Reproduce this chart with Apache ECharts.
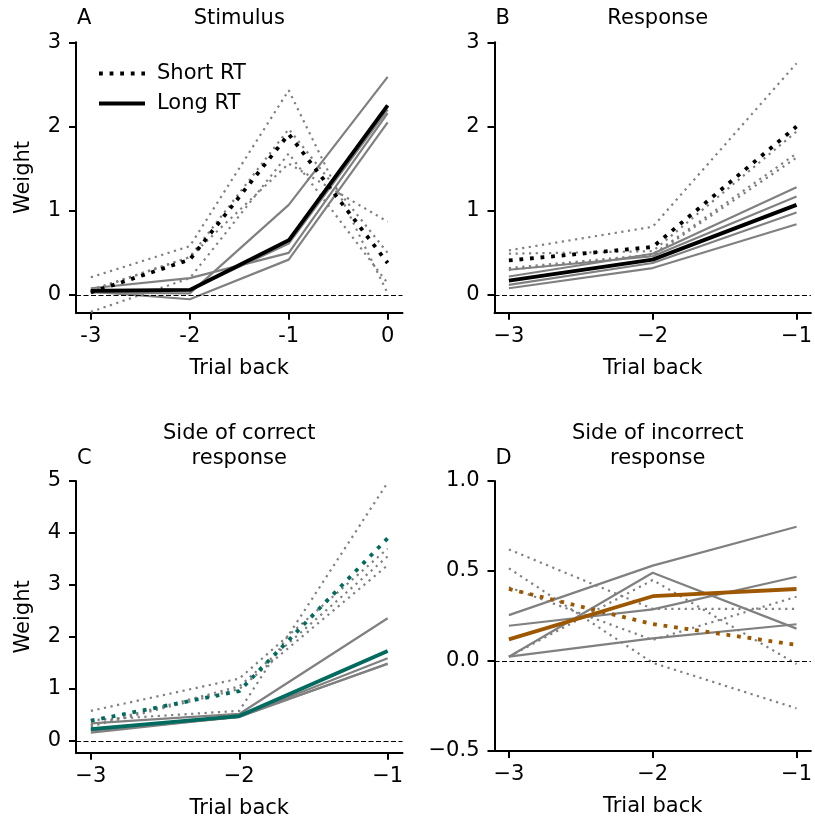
<!DOCTYPE html>
<html><head><meta charset="utf-8">
<script src="https://cdn.jsdelivr.net/npm/echarts@6/dist/echarts.min.js"></script>
<style>html,body{margin:0;padding:0;background:#fff}#c{width:815px;height:823px}</style>
</head><body><div id="c"></div>
<script>
// ---------- data ----------
const trialsA = [-3, -2, -1, 0];
const trials = [-3, -2, -1];

// Panel A: Stimulus
const stimShortIndiv = [[0.21, 0.58, 2.43, 0.02], [-0.20, 0.20, 1.68, 0.14], [0.05, 0.45, 1.56, 0.87], [0.06, 0.45, 1.97, 0.50]];
const stimLongIndiv = [[0.03, 0.02, 1.07, 2.59], [0.08, 0.20, 0.50, 2.16], [0.04, -0.05, 0.42, 2.05], [0.06, 0.06, 0.61, 2.20]];
const stimShortMean = [0.03, 0.42, 1.91, 0.38];
const stimLongMean = [0.05, 0.06, 0.65, 2.25];

// Panel B: Response
const respShortIndiv = [[0.53, 0.81, 2.75], [0.49, 0.52, 1.94], [0.32, 0.48, 1.68], [0.30, 0.47, 1.63]];
const respLongIndiv = [[0.22, 0.49, 1.28], [0.30, 0.46, 1.17], [0.12, 0.38, 0.98], [0.08, 0.32, 0.84]];
const respShortMean = [0.41, 0.57, 2.00];
const respLongMean = [0.17, 0.42, 1.07];

// Panel C: Side of correct response
const corrShortIndiv = [[0.40, 0.58, 4.97], [0.58, 1.20, 3.70], [0.30, 1.05, 3.55], [0.28, 1.00, 3.38]];
const corrLongIndiv = [[0.34, 0.52, 2.36], [0.22, 0.47, 1.59], [0.20, 0.46, 1.49], [0.16, 0.47, 1.48]];
const corrShortMean = [0.39, 0.96, 3.90];
const corrLongMean = [0.23, 0.48, 1.73];

// Panel D: Side of incorrect response
const incShortIndiv = [[0.62, 0.29, 0.29], [0.515, -0.01, -0.263], [0.024, 0.45, -0.017], [0.41, 0.117, 0.357]];
const incLongIndiv = [[0.255, 0.53, 0.746], [0.196, 0.287, 0.468], [0.024, 0.49, 0.18], [0.024, 0.126, 0.204]];
const incShortMean = [0.40, 0.205, 0.09];
const incLongMean = [0.12, 0.36, 0.40];

// tick labels
const xTicksA = [-3, -2, -1, 0];
const xTicks = [-3, -2, -1];
const yTicksAB = [0, 1, 2, 3];
const yTicksC = [0, 1, 2, 3, 4, 5];
const yTicksD = [-0.5, 0, 0.5, 1.0];

const titlesTop = ['Stimulus', 'Response', 'Side of correct\nresponse', 'Side of incorrect\nresponse'];
const letters = ['A', 'B', 'C', 'D'];
const legendNames = ['Short RT', 'Long RT'];

// ---------- styles ----------
const FONT = 'DejaVu Sans';
const FS = 21;
const GRAY = '#808080';
const BLACK = '#000000';
const TEAL = '#006b5e';
const BROWN = '#9c5700';
const GW = 2.2, MW = 3.8;
const DOT_G = [2.2, 4.5];
const DOT_M = [3.8, 6.8];

const grids = [
  {left: 76, top: 42.3, width: 326.5, height: 270.4},
  {left: 494.5, top: 42.3, width: 326.5, height: 270.4},
  {left: 76, top: 481, width: 326.5, height: 271.7},
  {left: 494.5, top: 481, width: 326.5, height: 270}
];

const minus = v => (v < 0 ? '\u2212' + Math.abs(v) : String(v));
const hyph = v => String(v);
const minus1 = v => (v < 0 ? '\u2212' + Math.abs(v).toFixed(1) : v.toFixed(1));

function xAxis(gi, min, max, ticks, fmt) {
  return {
    type: 'value', gridIndex: gi, min: min, max: max,
    axisLine: {show: true, onZero: false, lineStyle: {color: BLACK, width: 2}},
    axisTick: {show: true, length: 7, lineStyle: {color: BLACK, width: 2}, customValues: ticks},
    axisLabel: {customValues: ticks, formatter: fmt, fontSize: FS, color: BLACK, fontFamily: FONT, margin: 13},
    splitLine: {show: false},
    name: 'Trial back', nameLocation: 'middle', nameGap: 45,
    nameTextStyle: {fontSize: FS, color: BLACK, fontFamily: FONT}
  };
}
function yAxis(gi, min, max, ticks, fmt, name) {
  return {
    type: 'value', gridIndex: gi, min: min, max: max,
    axisLine: {show: true, onZero: false, lineStyle: {color: BLACK, width: 2}},
    axisTick: {show: true, length: 7, lineStyle: {color: BLACK, width: 2}, customValues: ticks},
    axisLabel: {customValues: ticks, formatter: fmt, fontSize: FS, color: BLACK, fontFamily: FONT, margin: 15},
    splitLine: {show: false},
    name: name || '', nameLocation: 'middle', nameGap: 42, nameRotate: 90,
    nameTextStyle: {fontSize: FS, color: BLACK, fontFamily: FONT}
  };
}

const series = [];
function addLine(gi, name, xs, ys, color, width, type, z) {
  series.push({
    type: 'line', name: name, xAxisIndex: gi, yAxisIndex: gi,
    data: xs.map((x, i) => [x, ys[i]]),
    symbol: 'none', showSymbol: false, smooth: false, silent: true, z: z,
    lineStyle: {color: color, width: width, type: type, cap: 'butt'},
    itemStyle: {color: color}
  });
}
function zeroLine(gi) {
  series.push({
    type: 'line', name: 'zero' + gi, xAxisIndex: gi, yAxisIndex: gi, data: [], symbol: 'none', z: 1,
    markLine: {silent: true, symbol: ['none', 'none'], label: {show: false}, animation: false,
      lineStyle: {color: BLACK, width: 1.2, type: [5, 2.5]}, data: [{yAxis: 0}]}
  });
}

function panel(gi, xs, shortInd, longInd, shortMean, longMean, mcol, shortName, longName) {
  zeroLine(gi);
  shortInd.forEach((ys, k) => addLine(gi, 'p' + gi + 's' + k, xs, ys, GRAY, GW, DOT_G, 2));
  longInd.forEach((ys, k) => addLine(gi, 'p' + gi + 'l' + k, xs, ys, GRAY, GW, 'solid', 2));
  addLine(gi, shortName, xs, shortMean, mcol, MW, DOT_M, 3);
  addLine(gi, longName, xs, longMean, mcol, MW, 'solid', 3);
}

panel(0, trialsA, stimShortIndiv, stimLongIndiv, stimShortMean, stimLongMean, BLACK, legendNames[0], legendNames[1]);
panel(1, trials, respShortIndiv, respLongIndiv, respShortMean, respLongMean, BLACK, 'B short', 'B long');
panel(2, trials, corrShortIndiv, corrLongIndiv, corrShortMean, corrLongMean, TEAL, 'C short', 'C long');
panel(3, trials, incShortIndiv, incLongIndiv, incShortMean, incLongMean, BROWN, 'D short', 'D long');

const titles = [];
grids.forEach((g, i) => {
  const twoLine = titlesTop[i].indexOf('\n') >= 0;
  titles.push({
    text: titlesTop[i], left: g.left + g.width / 2, top: twoLine ? 421 : 6, textAlign: 'center', padding: 0,
    textStyle: {fontSize: FS, fontWeight: 'normal', color: BLACK, fontFamily: FONT, lineHeight: 25}
  });
  titles.push({
    text: letters[i], left: g.left + 1, top: i < 2 ? 6 : 446, padding: 0,
    textStyle: {fontSize: FS, fontWeight: 'normal', color: BLACK, fontFamily: FONT, lineHeight: 25}
  });
});

// legend icons: dotted and solid line samples
const dotIcon = 'path://M0,0h3.8v3.8h-3.8z M10.6,0h3.8v3.8h-3.8z M21.2,0h3.8v3.8h-3.8z M31.8,0h3.8v3.8h-3.8z M42.4,0h3.6v3.8h-3.6z';
const solidIcon = 'path://M0,0h46v3.8h-46z';

const option = {
  animation: false,
  backgroundColor: '#fff',
  title: titles,
  grid: grids,
  legend: {
    show: true,
    data: [{name: legendNames[0], icon: dotIcon}, {name: legendNames[1], icon: solidIcon}],
    orient: 'vertical', left: 94, top: 58,
    itemWidth: 46, itemHeight: 14, itemGap: 9, selectedMode: false,
    itemStyle: {color: BLACK, borderWidth: 0},
    textStyle: {fontSize: FS, color: BLACK, fontFamily: FONT, padding: [0, 0, 0, 7]}
  },
  xAxis: [
    xAxis(0, -3.15, 0.15, xTicksA, hyph),
    xAxis(1, -3.1, -0.9, xTicks, minus),
    xAxis(2, -3.1, -0.9, xTicks, minus),
    xAxis(3, -3.1, -0.9, xTicks, minus)
  ],
  yAxis: [
    yAxis(0, -0.21, 3, yTicksAB, hyph, 'Weight'),
    yAxis(1, -0.21, 3, yTicksAB, hyph),
    yAxis(2, -0.225, 5, yTicksC, hyph, 'Weight'),
    yAxis(3, -0.5, 1.0, yTicksD, minus1)
  ],
  series: series
};
const chart = echarts.init(document.getElementById('c'), null, {renderer: 'canvas'});
chart.setOption(option);
</script></body></html>
